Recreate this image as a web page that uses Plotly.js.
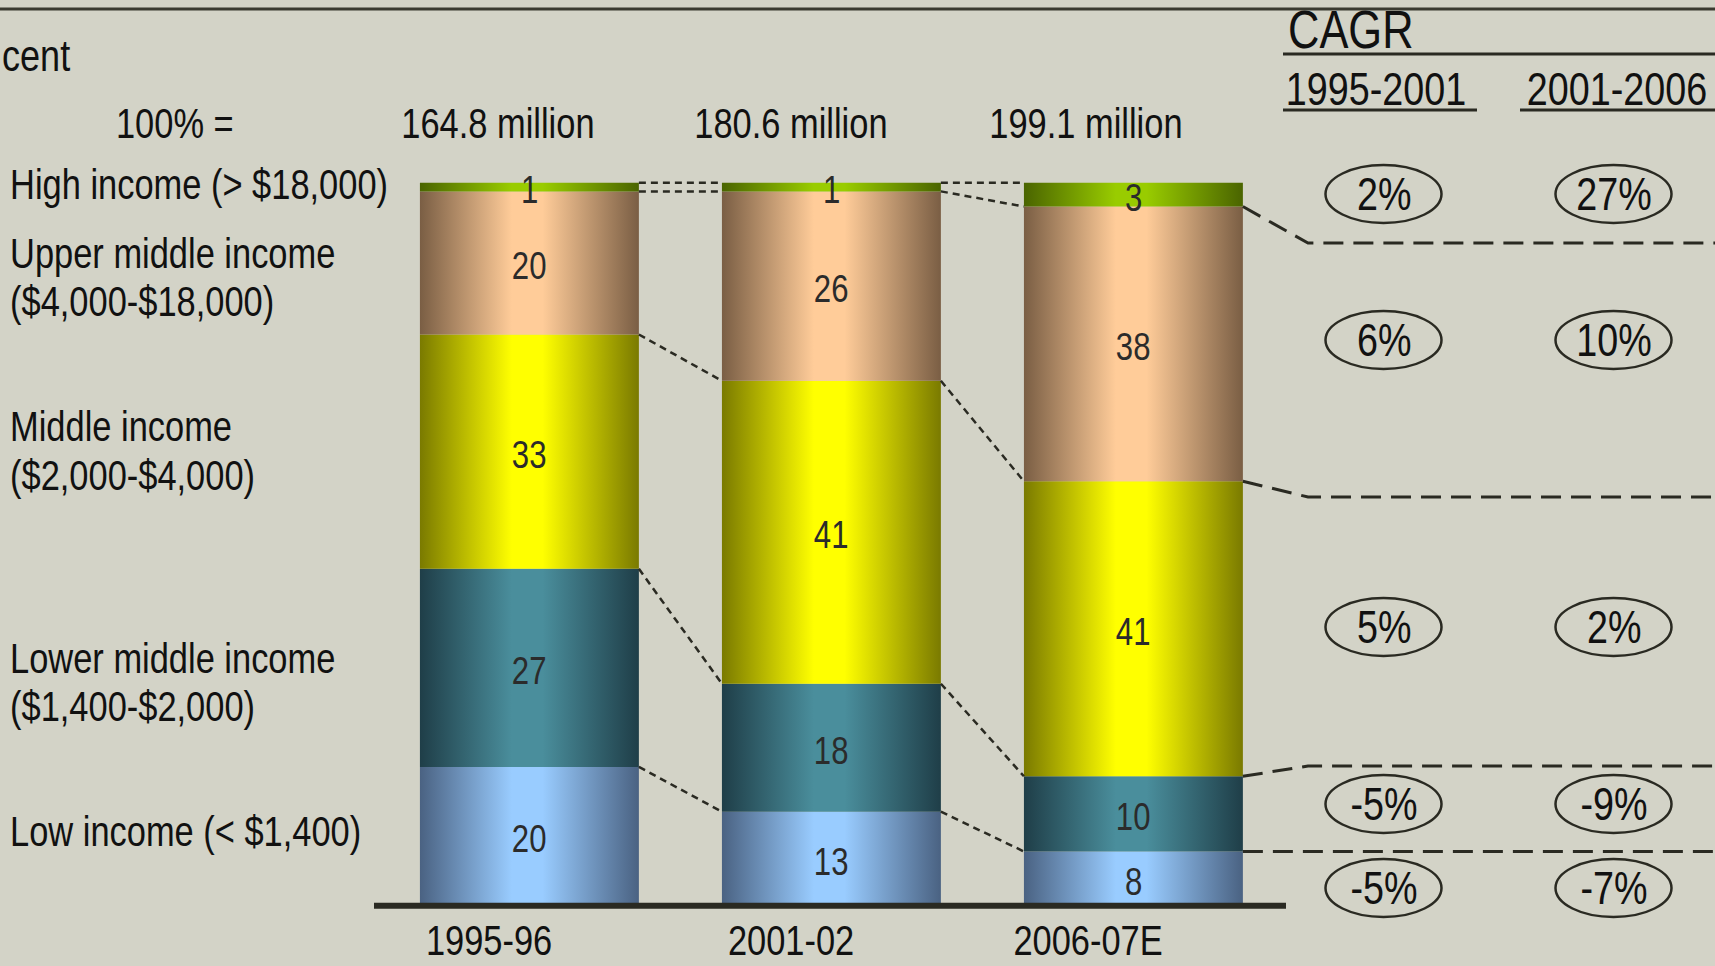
<!DOCTYPE html>
<html><head><meta charset="utf-8">
<script src="https://cdn.plot.ly/plotly-3.0.1.min.js"></script>
<style>html,body{margin:0;padding:0;background:#D3D3C7;overflow:hidden}#chart{width:1715px;height:966px}</style>
</head><body><div id="chart"></div>
<script>
// ---------------- data ----------------
const periods = ['1995-96', '2001-02', '2006-07E'];
const totals = ['164.8 million', '180.6 million', '199.1 million'];

// segment shares (percent), bottom segment first
const lowIncome    = [19.2, 13.0, 7.5];
const lowerMiddle  = [27.4, 17.7, 10.4];
const middleIncome = [32.4, 41.9, 40.8];
const upperMiddle  = [19.8, 26.2, 38.0];
const highIncome   = [1.2, 1.2, 3.3];

// printed (rounded) labels
const lowLabels    = [20, 13, 8];
const lowerLabels  = [27, 18, 10];
const middleLabels = [33, 41, 41];
const upperLabels  = [20, 26, 38];
const highLabels   = [1, 1, 3];

const segmentLabels = [
  ['Low income (< $1,400)'],
  ['Lower middle income', '($1,400-$2,000)'],
  ['Middle income', '($2,000-$4,000)'],
  ['Upper middle income', '($4,000-$18,000)'],
  ['High income (> $18,000)']
];

// CAGR, bottom row first
const cagrPeriods = ['1995-2001', '2001-2006'];
const cagr9501 = ['-5%', '-5%', '5%', '6%', '2%'];
const cagr0106 = ['-7%', '-9%', '2%', '10%', '27%'];

// ---------------- styling / layout ----------------
const W = 1715, H = 966;
const FONT = '"Liberation Sans", Arial, sans-serif';
const NARROW = 0.82;             // horizontal condensing of all texts (Arial Narrow look)
const BG = '#D3D3C7';
const INK = '#2a2a22';
const X0 = 529.4, XS = 302;      // px of category 0, px per category
const Y0 = 905.7, YS = 7.23;     // px of value 0, px per percent
const xOf = p => (p - X0) / XS;
const yOf = p => (Y0 - p) / YS;
const pxX = p => p / W;
const pxY = p => 1 - p / H;
const BW = 0.725;

const series = [lowIncome, lowerMiddle, middleIncome, upperMiddle, highIncome];
const labels = [lowLabels, lowerLabels, middleLabels, upperLabels, highLabels];
const shades = [
  ['#4A6282', '#99CCFF'],
  ['#1F3E48', '#4A8E9C'],
  ['#7A7A00', '#FFFF00'],
  ['#7A5E44', '#FFCC99'],
  ['#4A6400', '#99CC00']
];

const traces = [];
const annotations = [];
const shapes = [];

function txt(o) {
  return Object.assign({showarrow: false, xanchor: 'center', yanchor: 'middle',
    xref: 'paper', yref: 'paper'}, o);
}

// cumulative boundaries
const cum = periods.map((_, i) => {
  const c = [0];
  series.forEach(s => c.push(c[c.length - 1] + s[i]));
  return c;
});

// bar segments with horizontal gradients
series.forEach((s, k) => {
  periods.forEach((p, i) => {
    const b = cum[i][k], t = cum[i][k + 1];
    const l = i - BW / 2, r = i + BW / 2;
    traces.push({
      type: 'scatter', mode: 'lines',
      x: [l, r, r, l, l], y: [b, b, t, t, b],
      fill: 'toself',
      line: {width: 0, color: 'rgba(0,0,0,0)'},
      fillgradient: {
        type: 'horizontal',
        colorscale: [[0, shades[k][0]], [0.42, shades[k][1]], [0.56, shades[k][1]], [1, shades[k][0]]]
      },
      hoverinfo: 'skip', showlegend: false
    });
    annotations.push(txt({
      x: i, y: (b + t) / 2, xref: 'x', yref: 'y', yshift: -3, text: String(labels[k][i]),
      font: {family: FONT, size: 38, color: '#2b2b2b'}
    }));
  });
});

// dotted connectors between bars
for (let i = 0; i < periods.length - 1; i++) {
  for (let k = 1; k <= series.length; k++) {
    traces.push({
      type: 'scatter', mode: 'lines',
      x: [i + BW / 2, i + 1 - BW / 2], y: [cum[i][k], cum[i + 1][k]],
      line: {color: INK, width: 2.5, dash: '7px,5px'},
      hoverinfo: 'skip', showlegend: false
    });
  }
}

// dashed separators to the CAGR rows
const sepPx = [850, 766, 497, 243];
const last = periods.length - 1;
sepPx.forEach((sp, j) => {
  const k = j + 1;
  const yEnd = j === 0 ? cum[last][k] : yOf(sp);
  traces.push({
    type: 'scatter', mode: 'lines',
    x: [last + BW / 2, xOf(1308), xOf(W + 10)],
    y: [cum[last][k], yEnd, yEnd],
    line: {color: INK, width: 3, dash: '20px,10px'},
    hoverinfo: 'skip', showlegend: false
  });
});

// baseline
traces.push({
  type: 'scatter', mode: 'lines',
  x: [xOf(374), xOf(1286)], y: [0, 0],
  line: {color: INK, width: 6}, hoverinfo: 'skip', showlegend: false
});

// category labels and totals
const catShift = [-40, -40, -45];
const totShift = [-31, -40, -47];
periods.forEach((p, i) => {
  annotations.push(txt({x: i, y: pxY(940), xref: 'x', xshift: catShift[i], text: p,
    font: {family: FONT, size: 42, color: '#111'}}));
  annotations.push(txt({x: i, y: pxY(124), xref: 'x', xshift: totShift[i], text: totals[i],
    font: {family: FONT, size: 42, color: '#111'}}));
});
annotations.push(txt({x: pxX(175), y: pxY(124), text: '100% =',
  font: {family: FONT, size: 42, color: '#111'}}));
annotations.push(txt({x: 0, y: pxY(55), xanchor: 'left', text: 'cent',
  font: {family: FONT, size: 44, color: '#111'}}));

// row labels on the left
const rowPx = [[831], [658, 706], [427, 475], [254, 302], [184]];
segmentLabels.forEach((lines, k) => {
  lines.forEach((t, j) => {
    annotations.push(txt({x: pxX(8), y: pxY(rowPx[k][j]), xanchor: 'left',
      text: t, font: {family: FONT, size: 42, color: '#111'}}));
  });
});

// CAGR header
annotations.push(txt({x: pxX(1286), y: pxY(29), xanchor: 'left', text: 'CAGR',
  font: {family: FONT, size: 53, color: '#111'}}));
const colPx = [1383.5, 1613.5];
const headPx = [1376, 1617];
cagrPeriods.forEach((t, c) => {
  annotations.push(txt({x: pxX(headPx[c]), y: pxY(89), text: t,
    font: {family: FONT, size: 46, color: '#111'}}));
});
shapes.push({type: 'line', xref: 'paper', yref: 'paper', x0: pxX(1283), x1: 1, y0: pxY(54), y1: pxY(54), line: {color: INK, width: 3}});
shapes.push({type: 'line', xref: 'paper', yref: 'paper', x0: pxX(1283), x1: pxX(1477), y0: pxY(110), y1: pxY(110), line: {color: INK, width: 3}});
shapes.push({type: 'line', xref: 'paper', yref: 'paper', x0: pxX(1520), x1: 1, y0: pxY(110), y1: pxY(110), line: {color: INK, width: 3}});
// top rule
shapes.push({type: 'line', xref: 'paper', yref: 'paper', x0: 0, x1: 1, y0: pxY(9), y1: pxY(9), line: {color: '#3a3a30', width: 3}});

// CAGR ellipses
const rowCenters = [888, 804, 627, 340, 194];
[cagr9501, cagr0106].forEach((vals, c) => {
  vals.forEach((v, r) => {
    const cx = colPx[c], cy = rowCenters[r];
    shapes.push({type: 'circle', xref: 'paper', yref: 'paper',
      x0: pxX(cx - 58), x1: pxX(cx + 58), y0: pxY(cy + 29), y1: pxY(cy - 29),
      line: {color: INK, width: 2.5}, fillcolor: 'rgba(0,0,0,0)'});
    annotations.push(txt({x: pxX(cx), y: pxY(cy), text: v,
      font: {family: FONT, size: 46, color: '#111'}}));
  });
});

const layout = {
  width: W, height: H,
  margin: {l: 0, r: 0, t: 0, b: 0},
  paper_bgcolor: BG, plot_bgcolor: BG,
  xaxis: {range: [xOf(0), xOf(W)], visible: false, fixedrange: true},
  yaxis: {range: [yOf(H), yOf(0)], visible: false, fixedrange: true},
  showlegend: false,
  annotations: annotations,
  shapes: shapes
};

Plotly.newPlot('chart', traces, layout, {displayModeBar: false, staticPlot: true}).then(gd => {
  // condense the texts horizontally around their anchor
  gd.querySelectorAll('g.annotation').forEach(g => {
    const idx = +g.getAttribute('data-index');
    const ann = layout.annotations[idx];
    const t = g.querySelector('text');
    if (!t || !ann) return;
    const bb = t.getBBox();
    const ox = ann.xanchor === 'left' ? bb.x : ann.xanchor === 'right' ? bb.x + bb.width : bb.x + bb.width / 2;
    t.setAttribute('transform', `translate(${ox},0) scale(${NARROW},1) translate(${-ox},0)`);
  });
});
</script>
</body></html>
